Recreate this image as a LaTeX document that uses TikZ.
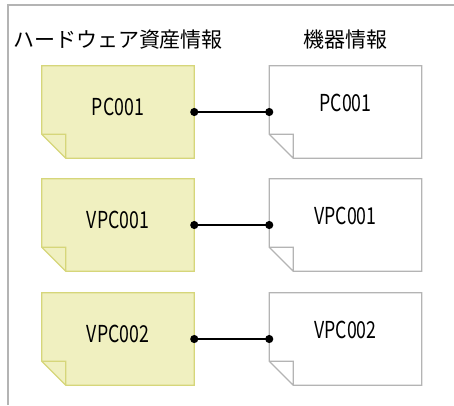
\documentclass[tikz,border=0pt]{standalone}
\usepackage{fontspec}
\setmainfont{Noto Sans CJK JP}
\usepackage{graphicx}
\usetikzlibrary{arrows.meta, positioning, backgrounds}
\definecolor{hwfill}{HTML}{F0F0C0}
\definecolor{hwline}{HTML}{D6D67A}
\definecolor{devline}{HTML}{B4B4B4}
\newcommand{\narrowtext}[1]{\scalebox{0.76}[1]{#1}}

\begin{document}
\begin{tikzpicture}[x=0.75pt, y=-0.75pt,
    docbox/.style={minimum width=114pt, minimum height=69pt, inner sep=0pt, font=\fontsize{17.5}{17.5}\selectfont},
    hwdoc/.style={docbox, text depth=7.5pt},
    devdoc/.style={docbox, text depth=13.5pt},
    heading/.style={font=\fontsize{15.75}{15.75}\selectfont, inner sep=0pt},
    link/.style={line width=1.4pt, {Circle[length=6pt]}-{Circle[length=6pt]}, shorten <=-3pt, shorten >=-3pt}]
    \useasboundingbox (0,0) rectangle (454,405);
    % frame
    \draw[devline, line width=1.2pt] (8,405) -- (8,5) -- (454,5);
    % headings
    \node[heading] (hwhead) at (118,40) {ハードウェア資産情報};
    \node[heading] (devhead) at (345,40) {機器情報};
    % documents
    \node[hwdoc] (hw1) at (118,112) {\narrowtext{PC001}};
    \node[hwdoc] (hw2) at (118,225) {\narrowtext{VPC001}};
    \node[hwdoc] (hw3) at (118,339) {\narrowtext{VPC002}};
    \node[devdoc] (dev1) at (345.5,112) {\narrowtext{PC001}};
    \node[devdoc] (dev2) at (345.5,225) {\narrowtext{VPC001}};
    \node[devdoc] (dev3) at (345.5,339) {\narrowtext{VPC002}};
    \begin{scope}[on background layer]
        \foreach \n/\c/\f in {hw1/hwline/hwfill, hw2/hwline/hwfill, hw3/hwline/hwfill, dev1/devline/white, dev2/devline/white, dev3/devline/white}
            \draw[draw=\c, fill=\f, line width=0.9pt, line join=miter]
                (\n.north west) -- (\n.north east) -- (\n.south east) -- ([xshift=18pt]\n.south west) -- ([yshift=18pt]\n.south west) -- cycle
                ([yshift=18pt]\n.south west) -- ([shift={(18pt,18pt)}]\n.south west) -- ([xshift=18pt]\n.south west);
    \end{scope}
    % links
    \foreach \i in {1,2,3}
        \draw[link] (hw\i.east) -- (dev\i.west);
\end{tikzpicture}
\end{document}
